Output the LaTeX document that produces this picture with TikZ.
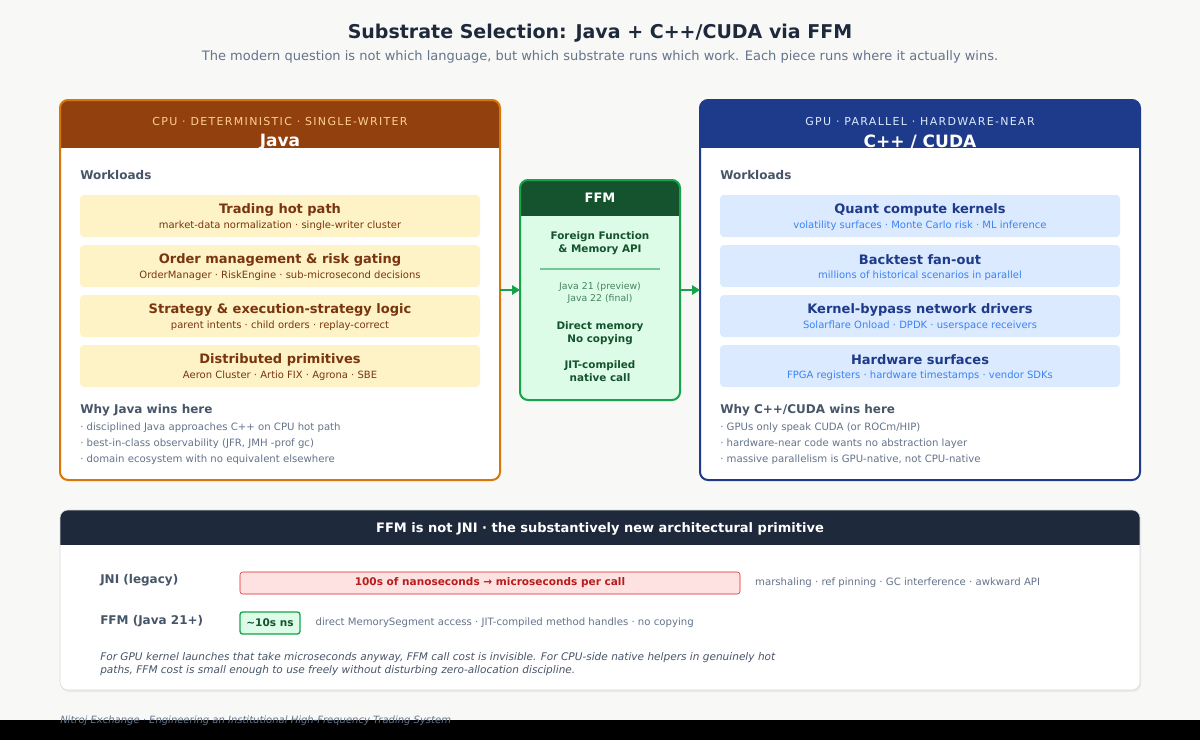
\documentclass[tikz,border=0pt]{standalone}
\usepackage{fontspec}
\setmainfont{DejaVu Sans}
\usetikzlibrary{positioning,arrows.meta}
\definecolor{pagebg}{HTML}{F8F8F6}
\definecolor{ink}{HTML}{1E293B}
\definecolor{muted}{HTML}{64748B}
\definecolor{slate}{HTML}{475569}
\definecolor{javahdr}{HTML}{92400E}
\definecolor{javaline}{HTML}{D97706}
\definecolor{javabox}{HTML}{FEF3C7}
\definecolor{javatxt}{HTML}{78350F}
\definecolor{cudahdr}{HTML}{1E3A8A}
\definecolor{cudabox}{HTML}{DBEAFE}
\definecolor{cudasub}{HTML}{3B82F6}
\definecolor{ffmhdr}{HTML}{14532D}
\definecolor{ffmline}{HTML}{16A34A}
\definecolor{ffmbody}{HTML}{DCFCE7}
\definecolor{ffmtxt}{HTML}{166534}
\definecolor{jnibox}{HTML}{FEE2E2}
\definecolor{jniline}{HTML}{DC2626}
\definecolor{jnitxt}{HTML}{B91C1C}
\newcommand{\fsz}[1]{\fontsize{#1pt}{1.25\dimexpr#1pt\relax}\selectfont}
\begin{document}
\begin{tikzpicture}[x=0.75pt,y=-0.75pt,
    workbox/.style={rectangle,rounded corners=3pt,minimum width=300pt,minimum height=31.5pt,inner sep=0},
    boxtitle/.style={font=\fsz{9.75}\bfseries,anchor=center},
    boxsub/.style={font=\fsz{7.5},anchor=center},
    sectitle/.style={font=\fsz{9}\bfseries,text=slate,anchor=west,inner sep=0},
    winline/.style={font=\fsz{7.6},text=muted,anchor=west,inner sep=0},
    hdrsmall/.style={font=\fsz{8.25}\addfontfeatures{LetterSpace=12},anchor=center},
    hdrbig/.style={font=\fsz{12.75}\bfseries,text=white,anchor=center},
    link/.style={-{Triangle[length=6pt,width=7pt]},ffmline,line width=1.5pt}]
    \useasboundingbox (0,0) rectangle (1200,740);
    \fill[pagebg] (0,0) rectangle (1200,720);
    \fill[black] (0,720) rectangle (1200,740);
    % title
    \node[font=\fsz{14.25}\bfseries,text=ink] (title) at (600,33) {Substrate Selection: Java + C++/CUDA via FFM};
    \node[font=\fsz{9.75},text=muted] (subtitle) at (600,57) {The modern question is not which language, but which substrate runs which work. Each piece runs where it actually wins.};
    % Java panel
    \fill[white,rounded corners=6pt] (60,100) rectangle (500,480);
    \begin{scope}
        \clip[rounded corners=6pt] (60,100) rectangle (500,480);
        \fill[javahdr] (60,100) rectangle (500,148);
    \end{scope}
    \draw[javaline,line width=1.5pt,rounded corners=6pt] (60,100) rectangle (500,480);
    \node[hdrsmall,text=javabox!70!orange] (javacap) at (280,121) {CPU · DETERMINISTIC · SINGLE-WRITER};
    \node[hdrbig] (javaname) at (280,142) {Java};
    \node[sectitle] (javawl) at (80,175) {Workloads};
    \foreach \y/\t/\s [count=\i] in {
        195/Trading hot path/market-data normalization · single-writer cluster,
        245/Order management \& risk gating/OrderManager · RiskEngine · sub-microsecond decisions,
        295/Strategy \& execution-strategy logic/parent intents · child orders · replay-correct,
        345/Distributed primitives/Aeron Cluster · Artio FIX · Agrona · SBE} {
        \node[workbox,fill=javabox] (jw\i) at (280,\y+21) {};
        \node[boxtitle,text=javatxt] at (280,\y+15) {\t};
        \node[boxsub,text=javatxt] at (280,\y+31) {\s};
    }
    \node[sectitle] (javawhy) at (80,410) {Why Java wins here};
    \node[winline] at (80,428) {· disciplined Java approaches C++ on CPU hot path};
    \node[winline] at (80,444) {· best-in-class observability (JFR, JMH -prof gc)};
    \node[winline] at (80,460) {· domain ecosystem with no equivalent elsewhere};
    % CUDA panel
    \fill[white,rounded corners=6pt] (700,100) rectangle (1140,480);
    \begin{scope}
        \clip[rounded corners=6pt] (700,100) rectangle (1140,480);
        \fill[cudahdr] (700,100) rectangle (1140,148);
    \end{scope}
    \draw[cudahdr,line width=1.5pt,rounded corners=6pt] (700,100) rectangle (1140,480);
    \node[hdrsmall,text=cudabox] (cudacap) at (920,121) {GPU · PARALLEL · HARDWARE-NEAR};
    \node[hdrbig] (cudaname) at (920,142) {C++ / CUDA};
    \node[sectitle] (cudawl) at (720,175) {Workloads};
    \foreach \y/\t/\s [count=\i] in {
        195/Quant compute kernels/volatility surfaces · Monte Carlo risk · ML inference,
        245/Backtest fan-out/millions of historical scenarios in parallel,
        295/Kernel-bypass network drivers/Solarflare Onload · DPDK · userspace receivers,
        345/Hardware surfaces/FPGA registers · hardware timestamps · vendor SDKs} {
        \node[workbox,fill=cudabox] (cw\i) at (920,\y+21) {};
        \node[boxtitle,text=cudahdr] at (920,\y+15) {\t};
        \node[boxsub,text=cudasub] at (920,\y+31) {\s};
    }
    \node[sectitle] (cudawhy) at (720,410) {Why C++/CUDA wins here};
    \node[winline] at (720,428) {· GPUs only speak CUDA (or ROCm/HIP)};
    \node[winline] at (720,444) {· hardware-near code wants no abstraction layer};
    \node[winline] at (720,460) {· massive parallelism is GPU-native, not CPU-native};
    % FFM bridge
    \fill[ffmbody,rounded corners=6pt] (520,180) rectangle (680,400);
    \begin{scope}
        \clip[rounded corners=6pt] (520,180) rectangle (680,400);
        \fill[ffmhdr] (520,180) rectangle (680,216);
    \end{scope}
    \draw[ffmline,line width=1.5pt,rounded corners=6pt] (520,180) rectangle (680,400);
    \node[font=\fsz{9.75}\bfseries,text=white] (ffmname) at (600,198) {FFM};
    \node[font=\fsz{7.8}\bfseries,text=ffmhdr,align=center] (ffmapi) at (600,243) {Foreign Function\\\& Memory API};
    \draw[ffmline!60,line width=1pt] (540,269) -- (660,269);
    \node[font=\fsz{7},text=ffmtxt!80,align=center] (ffmver) at (600,293) {Java 21 (preview)\\Java 22 (final)};
    \node[font=\fsz{7.8}\bfseries,text=ffmhdr,align=center] (ffmmem) at (600,333) {Direct memory\\No copying};
    \node[font=\fsz{7.8}\bfseries,text=ffmhdr,align=center] (ffmjit) at (600,371) {JIT-compiled\\native call};
    \coordinate (javaout) at (500,290);
    \coordinate (ffmin) at (520,290);
    \coordinate (ffmout) at (680,290);
    \coordinate (cudain) at (700,290);
    \draw[link] (javaout) -- (ffmin);
    \draw[link] (ffmout) -- (cudain);
    % FFM vs JNI panel
    \fill[black!8,rounded corners=6pt] (61,512) rectangle (1141,692);
    \fill[white,rounded corners=6pt] (60,510) rectangle (1140,690);
    \begin{scope}
        \clip[rounded corners=6pt] (60,510) rectangle (1140,690);
        \fill[ink] (60,510) rectangle (1140,545);
    \end{scope}
    \draw[black!15,rounded corners=6pt] (60,510) rectangle (1140,690);
    \node[font=\fsz{9.75}\bfseries,text=white] (cmptitle) at (600,529) {FFM is not JNI · the substantively new architectural primitive};
    \node[sectitle] (jnilbl) at (100,580) {JNI (legacy)};
    \node[rectangle,fill=jnibox,draw=jniline,rounded corners=2pt,minimum width=375pt,minimum height=16.5pt,inner sep=0,
        font=\fsz{7.9}\bfseries,text=jnitxt] (jnicost) at (490,583) {100s of nanoseconds → microseconds per call};
    \node[winline,right=11pt of jnicost] (jninote) {marshaling · ref pinning · GC interference · awkward API};
    \node[sectitle] (ffmlbl) at (100,621) {FFM (Java 21+)};
    \node[rectangle,fill=ffmbody,draw=ffmline,line width=1pt,rounded corners=2pt,minimum width=45pt,minimum height=16.5pt,inner sep=0,
        font=\fsz{7.9}\bfseries,text=ffmhdr] (ffmcost) at (270,623) {\textasciitilde10s ns};
    \node[winline,right=11pt of ffmcost] (ffmnote) {direct MemorySegment access · JIT-compiled method handles · no copying};
    \node[font=\fsz{7.9}\itshape,text=slate,anchor=west,inner sep=0,align=left] (cmpnote) at (100,664)
        {For GPU kernel launches that take microseconds anyway, FFM call cost is invisible. For CPU-side native helpers in genuinely hot\\paths, FFM cost is small enough to use freely without disturbing zero-allocation discipline.};
    % footer
    \node[font=\fsz{7.5}\itshape,text=muted,anchor=west,inner sep=0] (footer) at (60,721) {Nitroj Exchange · Engineering an Institutional High-Frequency Trading System};
\end{tikzpicture}
\end{document}
